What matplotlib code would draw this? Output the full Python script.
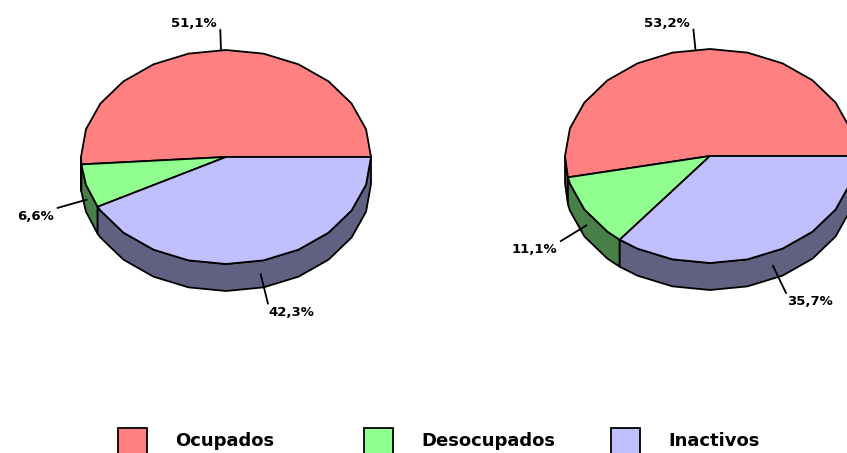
import numpy as np
import matplotlib
matplotlib.use("Agg")
import matplotlib.pyplot as plt
from matplotlib.patches import Polygon, Rectangle

categories = ["Ocupados", "Desocupados", "Inactivos"]
left_values = [51.1, 6.6, 42.3]
right_values = [53.2, 11.1, 35.7]
left_labels = ["51,1%", "6,6%", "42,3%"]
right_labels = ["53,2%", "11,1%", "35,7%"]

top_colors = ["#FF8080", "#90FF90", "#C0C0FF"]
side_colors = ["#804040", "#488048", "#606080"]

RX, RY, DEPTH = 145, 107, 27
STEP = 15  # the original outline is faceted, not smooth
FONT = "DejaVu Sans"


def arc(cx, cy, a0, a1):
    inner = np.arange(np.ceil(a0 / STEP) * STEP, a1, STEP)
    inner = inner[inner > a0]
    t = np.radians(np.concatenate([[a0], inner, [a1]]))
    return cx + RX * np.cos(t), cy - RY * np.sin(t)


def draw_pie(ax, cx, cy, values, labels):
    values = np.asarray(values, dtype=float)
    angles = np.concatenate([[0], np.cumsum(values) / values.sum() * 360])

    # sides (only the front half is visible)
    for i in range(len(values)):
        a0, a1 = max(angles[i], 180), min(angles[i + 1], 360)
        if a1 <= a0:
            continue
        x, y = arc(cx, cy, a0, a1)
        xs = np.concatenate([x, x[::-1]])
        ys = np.concatenate([y, y[::-1] + DEPTH])
        ax.add_patch(Polygon(np.column_stack([xs, ys]), closed=True,
                             facecolor=side_colors[i], edgecolor="black", lw=1.3))

    # top wedges
    for i in range(len(values)):
        x, y = arc(cx, cy, angles[i], angles[i + 1])
        xs = np.concatenate([[cx], x])
        ys = np.concatenate([[cy], y])
        ax.add_patch(Polygon(np.column_stack([xs, ys]), closed=True,
                             facecolor=top_colors[i], edgecolor="black", lw=1.3))

    # leader lines and labels
    for i in range(len(values)):
        mid = np.radians((angles[i] + angles[i + 1]) / 2)
        c, s = np.cos(mid), np.sin(mid)
        lower = s < 0
        dz = DEPTH / 2 if lower else 0
        dr = 30 if lower else 20
        x0, y0 = cx + RX * c, cy - RY * s + dz
        x1, y1 = cx + (RX + dr) * c, cy - (RY + dr) * s + dz
        ax.plot([x0, x1], [y0, y1], color="black", lw=1.3)
        ha = "right" if c < 0 else "left"
        tx = x1 - 4 if c < 0 else x1 + 1
        ty = y1 + 2 if lower else y1
        va = "top" if lower else "bottom"
        ax.text(tx, ty, labels[i], ha=ha, va=va, fontsize=9.5,
                fontweight="heavy", family=FONT, color="black")


def main() -> None:
    fig = plt.figure(figsize=(8.47, 4.53), dpi=100)
    ax = fig.add_axes([0, 0, 1, 1])
    ax.set_xlim(0, 847)
    ax.set_ylim(453, 0)
    ax.axis("off")

    draw_pie(ax, 226, 157, left_values, left_labels)
    draw_pie(ax, 710, 156, right_values, right_labels)

    # legend
    box_x = [118, 364, 611]
    for bx, name, col in zip(box_x, categories, top_colors):
        ax.add_patch(Rectangle((bx, 428), 29, 30, facecolor=col,
                               edgecolor="black", lw=1.3))
        ax.text(bx + 57, 441, name, ha="left", va="center", fontsize=13,
                fontweight="heavy", family=FONT, color="black")

    fig.savefig("out.png", dpi=100)


if __name__ == "__main__":
    main()
